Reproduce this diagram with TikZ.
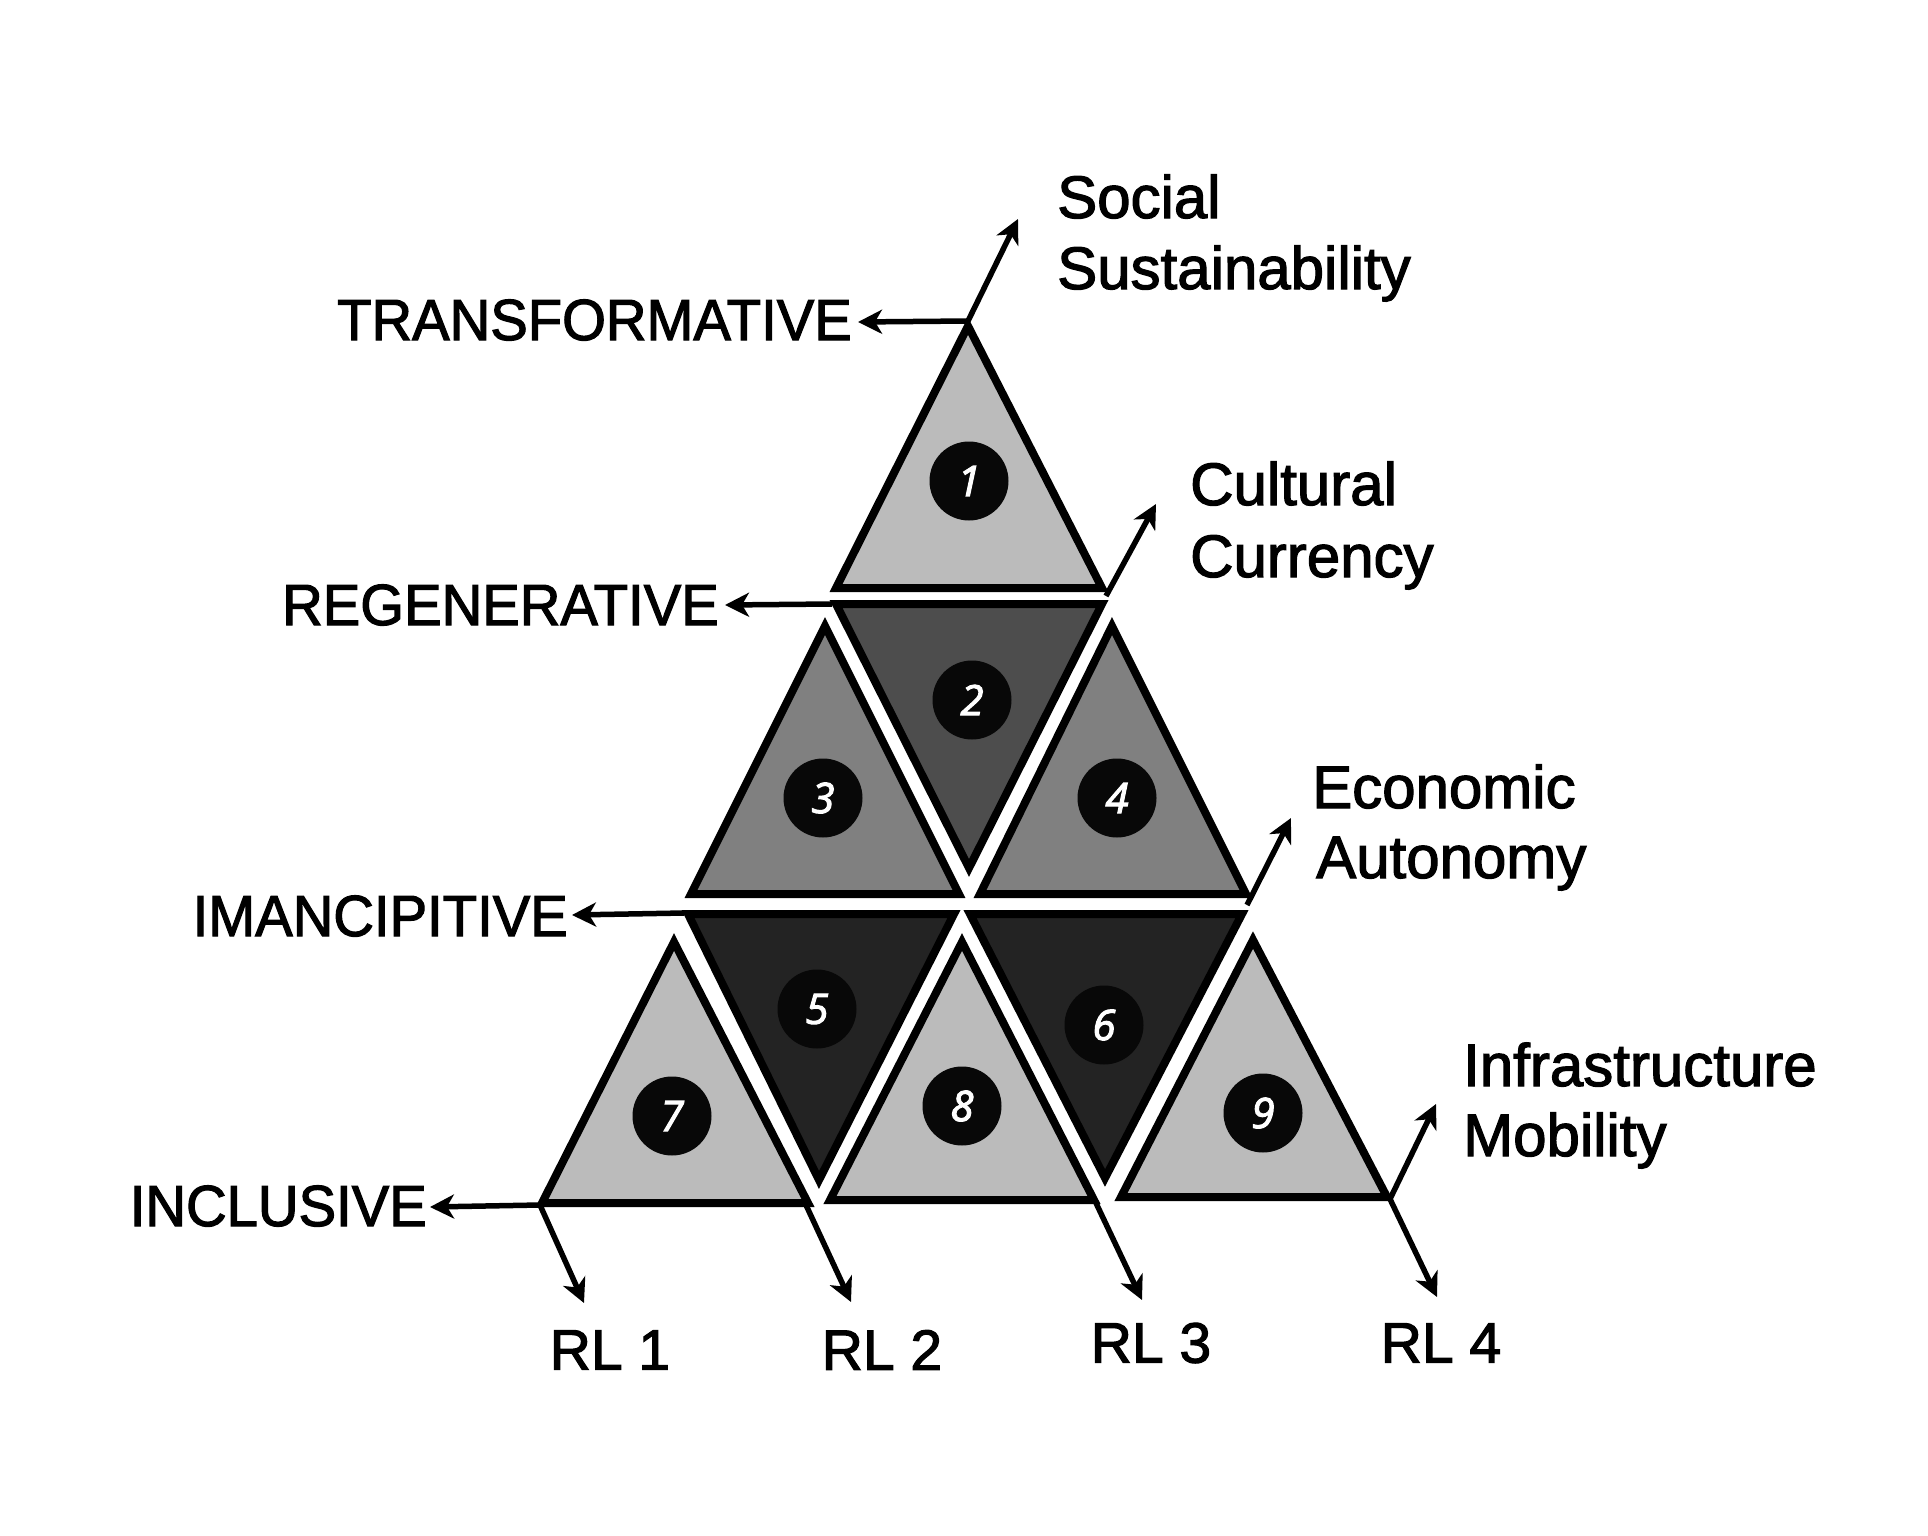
\documentclass[tikz,border=0pt]{standalone}
\usepackage{fontspec}
\setmainfont{Liberation Sans}
\newfontfamily\labfont{Liberation Sans}[FakeBold=2]
\newfontfamily\condfont{Liberation Sans}[FakeBold=2,FakeStretch=0.97]
\newfontfamily\numfont{Open Sans}[FakeBold=2.5]
\usetikzlibrary{arrows.meta}
\definecolor{tlight}{HTML}{BBBBBB}
\definecolor{tmid}{HTML}{808080}
\definecolor{tdark}{HTML}{4D4D4D}
\definecolor{tvdark}{HTML}{232323}
\definecolor{cblack}{HTML}{080808}
\begin{document}
\begin{tikzpicture}[x=1pt,y=-1pt,
  tri/.style={draw=black, line width=8pt, line join=miter},
  numc/.style={circle, fill=cblack, minimum size=79pt, inner sep=0pt, text=white,
    font=\numfont\itshape\fontsize{42}{42}\selectfont},
  arr/.style={line width=5.5pt, -{Stealth[length=24pt,width=24pt,inset=7pt]}},
  lvl/.style={font=\condfont\fontsize{58}{58}\selectfont, anchor=base east, inner sep=0pt},
  dim/.style={font=\labfont\fontsize{60}{60}\selectfont, anchor=base west, inner sep=0pt},
  rl/.style={font=\labfont\fontsize{57}{57}\selectfont, inner sep=0pt}
]
\useasboundingbox (0,0) rectangle (1928,1536);
\fill[white] (0,0) rectangle (1928,1536);

% triangle vertices
\coordinate (a1) at (968,326);  \coordinate (b1) at (836,588);  \coordinate (c1) at (1102,588);
\coordinate (a2) at (836,604);  \coordinate (b2) at (1102,604); \coordinate (c2) at (969,868);
\coordinate (a3) at (825,626);  \coordinate (b3) at (691,894);  \coordinate (c3) at (959,894);
\coordinate (a4) at (1112,626); \coordinate (b4) at (980,894);  \coordinate (c4) at (1246,894);
\coordinate (a5) at (688,914);  \coordinate (b5) at (954,914);  \coordinate (c5) at (819,1180);
\coordinate (a6) at (970,914);  \coordinate (b6) at (1242,914); \coordinate (c6) at (1105,1178);
\coordinate (a7) at (674,942);  \coordinate (b7) at (542,1203); \coordinate (c7) at (808,1203);
\coordinate (a8) at (962,942);  \coordinate (b8) at (830,1200); \coordinate (c8) at (1094,1200);
\coordinate (a9) at (1253,940); \coordinate (b9) at (1121,1197);\coordinate (c9) at (1387,1197);

\filldraw[tri, fill=tlight]  (a1) -- (b1) -- (c1) -- cycle;
\filldraw[tri, fill=tdark]   (a2) -- (b2) -- (c2) -- cycle;
\filldraw[tri, fill=tmid]    (a3) -- (b3) -- (c3) -- cycle;
\filldraw[tri, fill=tmid]    (a4) -- (b4) -- (c4) -- cycle;
\filldraw[tri, fill=tvdark]  (a5) -- (b5) -- (c5) -- cycle;
\filldraw[tri, fill=tvdark]  (a6) -- (b6) -- (c6) -- cycle;
\filldraw[tri, fill=tlight]  (a7) -- (b7) -- (c7) -- cycle;
\filldraw[tri, fill=tlight]  (a8) -- (b8) -- (c8) -- cycle;
\filldraw[tri, fill=tlight]  (a9) -- (b9) -- (c9) -- cycle;

% number circles
\node[numc] (n1) at (969,481) {1};
\node[numc] (n2) at (972,700) {2};
\node[numc] (n3) at (823,798) {3};
\node[numc] (n4) at (1117,798) {4};
\node[numc] (n5) at (817,1009) {5};
\node[numc] (n6) at (1104,1025) {6};
\node[numc] (n7) at (672,1116) {7};
\node[numc] (n8) at (962,1106) {8};
\node[numc] (n9) at (1263,1113) {9};

% arrow start points
\coordinate (sT) at (968,321);
\coordinate (sR) at (832,604);
\coordinate (sC) at (1106,596);
\coordinate (sI) at (684,913);
\coordinate (sE) at (1247,905);
\coordinate (sN) at (540,1205);
\coordinate (sM) at (1390,1199);
\coordinate (sR2) at (806,1205);
\coordinate (sR3) at (1096,1203);

% arrow ends
\coordinate (eT) at (858,322);
\coordinate (eS) at (1018,219);
\coordinate (eR) at (725,605);
\coordinate (eC) at (1156,504);
\coordinate (eI) at (572,915);
\coordinate (eE) at (1291,818);
\coordinate (eN) at (430,1207);
\coordinate (eM) at (1436,1104);
\coordinate (e1) at (584,1303);
\coordinate (e2) at (851,1302);
\coordinate (e3) at (1142,1300);
\coordinate (e4) at (1437,1297);

\draw[arr] (sT) -- (eT);
\draw[arr] (sT) -- (eS);
\draw[arr] (sR) -- (eR);
\draw[arr] (sC) -- (eC);
\draw[arr] (sI) -- (eI);
\draw[arr] (sE) -- (eE);
\draw[arr] (sN) -- (eN);
\draw[arr] (sM) -- (eM);
\draw[arr] (sN) -- (e1);
\draw[arr] (sR2) -- (e2);
\draw[arr] (sR3) -- (e3);
\draw[arr] (sM) -- (e4);

% level labels
\node[lvl] (lT) at (852,340) {TRANSFORMATIVE};
\node[lvl] (lR) at (719,625) {REGENERATIVE};
\node[lvl] (lI) at (568,936) {IMANCIPITIVE};
\node[lvl] (lN) at (427,1226) {INCLUSIVE};

% dimension labels
\node[dim] (dS1) at (1057,218) {Social};
\node[dim] (dS2) at (1057,289) {Sustainability};
\node[dim] (dC1) at (1190,505) {Cultural};
\node[dim] (dC2) at (1190,577) {Currency};
\node[dim] (dE1) at (1312,808) {Economic};
\node[dim] (dE2) at (1316,878) {Autonomy};
\node[dim] (dM1) at (1463,1086) {Infrastructure};
\node[dim] (dM2) at (1463,1156) {Mobility};

% RL labels
\node[rl] (r1) at (610,1350) {RL 1};
\node[rl] (r2) at (882,1350) {RL 2};
\node[rl] (r3) at (1151,1343) {RL 3};
\node[rl] (r4) at (1441,1343) {RL 4};
\end{tikzpicture}
\end{document}
